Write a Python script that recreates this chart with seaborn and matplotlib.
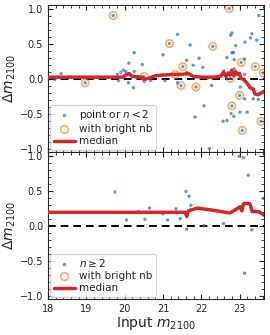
import numpy as np
import pandas as pd
import matplotlib
matplotlib.use("Agg")
import matplotlib.pyplot as plt
from matplotlib.ticker import AutoMinorLocator, MultipleLocator
from matplotlib.lines import Line2D
import seaborn as sns

# top panel: points with n<2
top_x = [18.18, 18.34, 18.97, 19.70, 19.81, 19.84, 19.90, 19.97, 20.03, 20.10,
         20.11, 20.23, 20.25, 20.25, 20.46, 20.51, 20.51, 20.68, 21.00, 21.05,
         21.17, 21.32, 21.38, 21.38, 21.47, 21.52, 21.62, 21.62, 21.71, 21.79,
         21.84, 21.86, 21.94, 22.04, 22.07, 22.21, 22.27, 22.30, 22.57, 22.59,
         22.67, 22.67, 22.73, 22.76, 22.77, 22.80, 22.80, 22.80, 22.78, 22.84,
         22.85, 22.86, 22.86, 22.90, 23.00, 23.01, 23.02, 23.04, 23.07, 23.13,
         23.13, 23.13, 23.14, 23.20, 23.28, 23.32, 23.36, 23.41, 23.45, 23.49,
         23.50, 23.56, 23.62]
top_y = [-0.01, 0.07, -0.06, 0.90, 0.06, -0.03, 0.09, 0.12, 0.10, -0.06,
         0.22, -0.13, 0.37, 0.10, 0.20, 0.03, -0.04, -0.03, 0.34, -0.03,
         0.50, 0.06, 0.63, -0.06, -0.10, 0.17, 0.26, 0.09, 0.48, 0.19,
         -0.55, -0.12, 0.29, 0.16, -0.39, -1.00, -0.10, 0.46, -0.61, 0.11,
         0.30, -0.60, 1.00, 0.00, 0.62, 0.65, 0.37, -0.39, -0.50, 0.37,
         -0.54, 0.27, 0.14, 0.47, -0.24, -0.48, -0.12, 0.23, -0.74, 0.28,
         0.06, -0.29, 0.52, -0.48, 0.58, 0.64, -0.29, 0.17, 0.55, -0.30,
         0.90, -0.61, 0.08]

# top panel: points with a bright neighbour
top_nb_x = [18.97, 19.70, 20.51, 21.17, 21.32, 21.47, 21.52, 21.86, 22.30,
            22.73, 22.76, 22.80, 23.00, 23.04, 23.07, 23.41, 23.56, 23.62]
top_nb_y = [-0.06, 0.90, 0.03, 0.50, 0.06, -0.10, 0.17, -0.12, 0.46,
            1.00, 0.00, -0.39, -0.24, 0.23, -0.74, 0.17, -0.61, 0.08]

# top panel running median
top_med_x = [18.0, 19.95, 20.05, 20.12, 20.2, 20.45, 20.5, 20.6, 20.8, 21.0,
             21.3, 21.5, 21.66, 21.8, 22.0, 22.3, 22.5, 22.58, 22.65, 22.7,
             22.75, 22.8, 22.85, 22.9, 22.95, 23.0, 23.04, 23.1, 23.17, 23.23,
             23.27, 23.36, 23.4, 23.49, 23.58, 23.64]
top_med_y = [0.02, 0.02, 0.06, 0.07, 0.03, 0.02, -0.01, 0.0, 0.04, 0.05,
             0.06, 0.06, 0.07, 0.03, 0.02, 0.02, 0.03, 0.09, 0.03, 0.08,
             0.05, 0.12, 0.04, 0.10, 0.06, 0.07, 0.0, -0.01, -0.05, -0.09,
             -0.13, -0.15, -0.22, -0.23, -0.20, -0.18]

# bottom panel: points with n>=2
bot_x = [19.75, 20.05, 20.36, 20.53, 20.65, 21.00, 21.12, 21.34, 21.45, 21.60,
         21.62, 21.68, 21.73, 22.07, 22.58, 22.99, 23.10, 23.13, 23.23, 23.32,
         23.62]
bot_y = [0.48, 0.08, 0.20, 0.09, 0.25, 0.17, 0.08, 0.24, 0.10, 0.49,
         -0.05, 0.42, 0.29, 0.00, 0.03, 0.99, 0.97, -0.68, 0.72, -0.06,
         0.39]

# bottom panel running median
bot_med_x = [18.0, 21.58, 21.62, 21.66, 21.9, 22.3, 22.75, 23.02, 23.06, 23.1,
             23.17, 23.27, 23.33, 23.5, 23.64]
bot_med_y = [0.19, 0.19, 0.13, 0.21, 0.25, 0.22, 0.18, 0.27, 0.21, 0.31,
             0.32, 0.31, 0.20, 0.20, 0.15]

sns.set_style("ticks")
plt.rcParams["font.family"] = ["DejaVu Sans"]
plt.rcParams["mathtext.fontset"] = "dejavusans"

blue = "#1f77b4"
orange = "#ff7f0e"
red = "#d62728"

fig, axes = plt.subplots(2, 1, figsize=(2.7, 3.35), dpi=100, sharex=True)
fig.subplots_adjust(left=0.178, right=0.978, top=0.985, bottom=0.107, hspace=0)

panels = [
    (axes[0], top_x, top_y, top_nb_x, top_nb_y, top_med_x, top_med_y, "point or $n<2$"),
    (axes[1], bot_x, bot_y, [], [], bot_med_x, bot_med_y, r"$n\geq2$"),
]

for ax, px, py, nx, ny, mx, my, lab in panels:
    ax.axhline(0, color="k", ls=(0, (4, 2.5)), lw=1.4, zorder=1)
    sns.scatterplot(x=px, y=py, ax=ax, color=blue, s=6, alpha=0.7,
                    edgecolor="none", zorder=3)
    if len(nx):
        sns.scatterplot(x=nx, y=ny, ax=ax, facecolors="none", edgecolor=orange,
                        marker="o", s=28, linewidth=1.3, alpha=0.6, zorder=2)
    med = pd.DataFrame({"x": mx, "y": my})
    sns.lineplot(data=med, x="x", y="y", ax=ax, color=red, lw=2.5,
                 estimator=None, sort=False, zorder=4)

    ax.set_xlim(18, 23.64)
    ax.set_ylim(-1.05, 1.05)
    ax.yaxis.set_major_locator(MultipleLocator(0.5))
    ax.xaxis.set_major_locator(MultipleLocator(1))
    ax.xaxis.set_minor_locator(AutoMinorLocator())
    ax.yaxis.set_minor_locator(AutoMinorLocator())
    ax.tick_params(which="both", direction="in", top=True, right=True,
                   labelsize=7)
    ax.tick_params(which="major", length=3.5, width=0.8)
    ax.tick_params(which="minor", length=2, width=0.6)
    ax.set_ylabel(r"$\Delta m_{2100}$", fontsize=10, labelpad=1)
    ax.set_xlabel("")

    handles = [
        Line2D([], [], ls="none", marker="o", ms=2.5, color=blue, alpha=0.7, mec="none"),
        Line2D([], [], ls="none", marker="o", ms=5.5, mfc="none", mec=orange,
               mew=1.3, alpha=0.6),
        Line2D([], [], color=red, lw=2.5),
    ]
    ax.legend(handles, [lab, "with bright nb", "median"], loc="lower left",
              fontsize=7.5, handlelength=2.0, handletextpad=0.4,
              borderpad=0.35, labelspacing=0.2, borderaxespad=0.2,
              framealpha=0.8)

axes[1].set_xlabel("Input $m_{2100}$", fontsize=10, labelpad=1)

fig.savefig("out.png", dpi=100)
